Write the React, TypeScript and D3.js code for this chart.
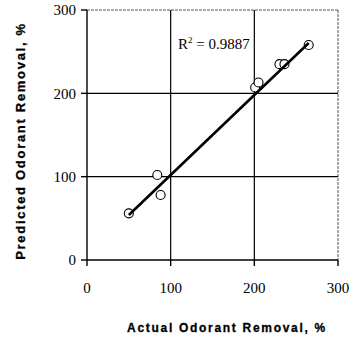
import * as d3 from 'd3';
import React from 'react';

// measured points (actual vs predicted odorant removal, %)
const actual = [50, 84, 88, 201, 205, 230, 236, 265];
const predicted = [56, 102, 78, 207, 213, 235, 235, 258];
const xTicks = [0, 100, 200, 300];
const yTicks = [0, 100, 200, 300];
// trend line as drawn
const trendX = [50, 265];
const trendSlope = 0.96;
const trendIntercept = 6;
const r2Label = '0.9887';

export default function App() {
  const width = 361;
  const height = 339;
  const left = 87, right = 338, top = 10, bottom = 260;

  const x = d3.scaleLinear().domain([0, 300]).range([left, right]);
  const y = d3.scaleLinear().domain([0, 300]).range([bottom, top]);

  const line = d3.line<number>()
    .x(d => x(d))
    .y(d => y(trendSlope * d + trendIntercept));

  const serif = '"Liberation Serif", "Times New Roman", serif';
  const sans = '"Liberation Sans", Arial, sans-serif';

  return (
    <svg width={width} height={height} style={{ position: 'absolute', left: 0, top: 0, background: '#fff' }}>
      {/* frame top/right, dotted */}
      <line x1={left} x2={right} y1={top} y2={top} stroke="#555" strokeWidth={1} strokeDasharray="3,1" />
      <line x1={right} x2={right} y1={top} y2={bottom} stroke="#555" strokeWidth={1} strokeDasharray="3,1" />

      {/* grid */}
      {xTicks.slice(1, -1).map(t => (
        <line key={'gx' + t} x1={x(t)} x2={x(t)} y1={top} y2={bottom} stroke="#000" strokeWidth={1.2} />
      ))}
      {yTicks.slice(1, -1).map(t => (
        <line key={'gy' + t} x1={left} x2={right} y1={y(t)} y2={y(t)} stroke="#000" strokeWidth={1.2} />
      ))}

      {/* axes */}
      <line x1={left} x2={left} y1={top} y2={bottom} stroke="#000" strokeWidth={1.4} />
      <line x1={left} x2={right} y1={bottom} y2={bottom} stroke="#000" strokeWidth={1.4} />
      {yTicks.map(t => (
        <g key={'yt' + t}>
          <line x1={left - 6} x2={left} y1={y(t)} y2={y(t)} stroke="#000" strokeWidth={1.4} />
          <text x={left - 11} y={y(t)} dy="0.35em" textAnchor="end" fontFamily={serif} fontSize={15}>{t}</text>
        </g>
      ))}
      {xTicks.map(t => (
        <g key={'xt' + t}>
          <line x1={x(t)} x2={x(t)} y1={bottom} y2={bottom + 6} stroke="#000" strokeWidth={1.4} />
          <text x={x(t)} y={288} dy="0.35em" textAnchor="middle" fontFamily={serif} fontSize={15}>{t}</text>
        </g>
      ))}

      {/* points */}
      {actual.map((a, i) => (
        <circle key={i} cx={x(a)} cy={y(predicted[i])} r={4.5} fill="#fff" stroke="#000" strokeWidth={1.1} />
      ))}

      {/* trend line, drawn over the markers */}
      <path d={line(trendX) || ''} fill="none" stroke="#000" strokeWidth={2.6} />

      {/* R² */}
      <text x={178} y={49} fontFamily={serif} fontSize={15}>
        R<tspan dy={-6} fontSize={9}>2</tspan><tspan dy={6}> = {r2Label}</tspan>
      </text>

      {/* axis titles */}
      <text x={227} y={328} dy="0.35em" textAnchor="middle" fontFamily={sans} fontWeight="bold" fontSize={12} letterSpacing={1.7} stroke="#000" strokeWidth={0.3}>
        Actual Odorant Removal, %
      </text>
      <text transform={`translate(20,141) rotate(-90)`} dy="0.35em" textAnchor="middle" fontFamily={sans} fontWeight="bold" fontSize={13} letterSpacing={1.7} stroke="#000" strokeWidth={0.3}>
        Predicted Odorant Removal, %
      </text>
    </svg>
  );
}
